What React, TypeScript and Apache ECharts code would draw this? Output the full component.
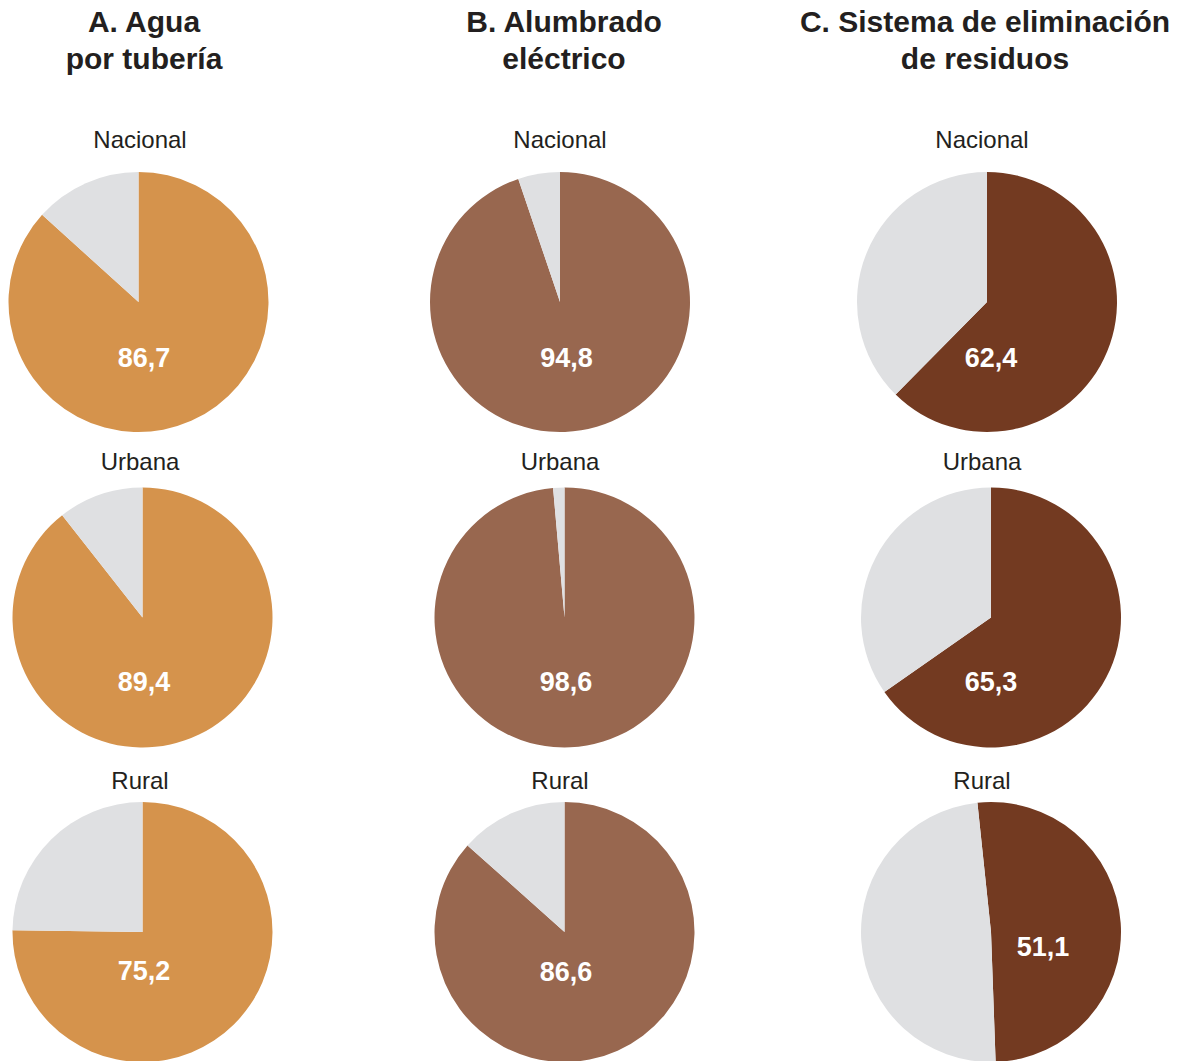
import React, { useEffect, useRef } from "react";
import * as echarts from "echarts";

const panelTitles = ["A. Agua\npor tubería", "B. Alumbrado\neléctrico", "C. Sistema de eliminación\nde residuos"];
const areas = ["Nacional", "Urbana", "Rural"];
const aguaValues = [86.7, 89.4, 75.2];
const luzValues = [94.8, 98.6, 86.6];
const residuosValues = [62.4, 65.3, 51.1];
const panelValues = [aguaValues, luzValues, residuosValues];
const panelColors = ["#D5934C", "#98674F", "#733A21"];
const restColor = "#DFE0E2";

// layout
const colX = [[138.5, 142.5, 142.5], [560, 564.5, 564.5], [987, 991, 991]];
const rowY = [302, 617.5, 932];
const startAngles = [[90, 90, 90], [90, 90, 90], [90, 90, 96]];
const areaLabelX = [140, 560, 982];
const areaLabelY = [139, 461, 780];
const titleX = [144, 564, 985];
const valueOffsets = [
  [[5.5, 56], [1.5, 64.5], [1.5, 39]],
  [[6.5, 56], [1.5, 64.5], [1.5, 40]],
  [[4, 56], [0, 64.5], [52, 15]],
];
const RADIUS = 130;

const fmt = (v: number) => v.toFixed(1).replace(".", ",");

export default function App() {
  const ref = useRef<HTMLDivElement>(null);
  useEffect(() => {
    if (!ref.current) return;
    const chart = echarts.init(ref.current, undefined, { renderer: "svg" });
    const series: any[] = [];
    const graphic: any[] = [];
    panelValues.forEach((vals, p) => {
      graphic.push({
        type: "text",
        x: titleX[p],
        y: 3,
        style: {
          text: panelTitles[p],
          fill: "#231F20",
          font: 'bold 30px "Liberation Sans", Arial, sans-serif',
          textAlign: "center",
          textVerticalAlign: "top",
          lineHeight: 37,
        },
      });
      vals.forEach((v, r) => {
        const cx = colX[p][r];
        const cy = rowY[r];
        series.push({
          type: "pie",
          center: [cx, cy],
          radius: RADIUS,
          startAngle: startAngles[p][r],
          clockwise: true,
          silent: true,
          label: { show: false },
          labelLine: { show: false },
          emphasis: { disabled: true },
          itemStyle: { borderWidth: 0 },
          data: [
            { name: areas[r], value: v, itemStyle: { color: panelColors[p] } },
            { name: "Resto", value: +(100 - v).toFixed(1), itemStyle: { color: restColor } },
          ],
        });
        graphic.push({
          type: "text",
          x: areaLabelX[p],
          y: areaLabelY[r],
          style: {
            text: areas[r],
            fill: "#231F20",
            font: '24px "Liberation Sans", Arial, sans-serif',
            textAlign: "center",
            textVerticalAlign: "middle",
          },
        });
        graphic.push({
          type: "text",
          x: cx + valueOffsets[p][r][0],
          y: cy + valueOffsets[p][r][1],
          z: 100,
          style: {
            text: fmt(v),
            fill: "#FFFFFF",
            font: 'bold 27px "Liberation Sans", Arial, sans-serif',
            textAlign: "center",
            textVerticalAlign: "middle",
          },
        });
      });
    });
    chart.setOption({
      animation: false,
      backgroundColor: "#FFFFFF",
      series,
      graphic,
    });
    return () => chart.dispose();
  }, []);
  return (
    <div
      ref={ref}
      style={{ position: "absolute", left: 0, top: 0, width: 1182, height: 1061 }}
    />
  );
}
